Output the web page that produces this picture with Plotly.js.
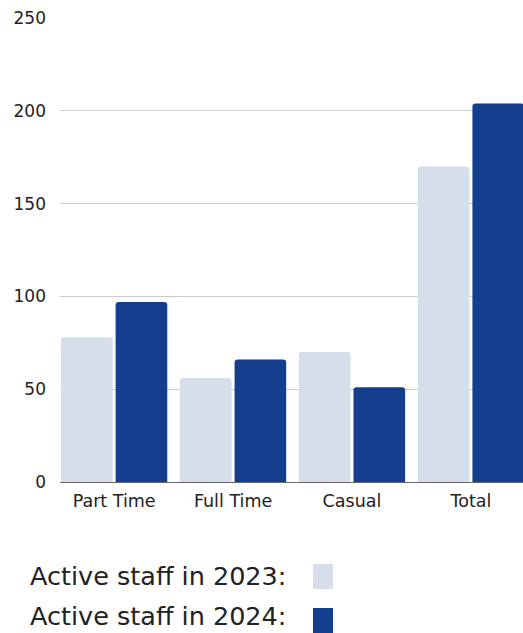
<!DOCTYPE html>
<html>
<head>
<meta charset="utf-8">
<script src="https://cdn.plot.ly/plotly-3.0.1.min.js"></script>
<style>html,body{margin:0;padding:0;background:#fff;}#chart{width:523px;height:633px;}</style>
</head>
<body>
<div id="chart"></div>
<script>
const categories = ["Part Time", "Full Time", "Casual", "Total"];
const staff2023 = [78, 56, 70, 170];
const staff2024 = [97, 66, 51, 204];
const seriesNames = ["Active staff in 2023:", "Active staff in 2024:"];
const yTicks = [0, 50, 100, 150, 200, 250];

const colors = ["#d5deea", "#133f8e"];
const W = 523, H = 633;
const M = {l: 60, r: 0, t: 18, b: 151};
const pw = W - M.l - M.r, ph = H - M.t - M.b;
const px = x => (x - M.l) / pw;
const py = y => (H - M.b - y) / ph;
const FONT = "DejaVu Sans, sans-serif";

const traces = [staff2023, staff2024].map((vals, i) => ({
  type: "bar",
  x: categories,
  y: vals,
  name: seriesNames[i],
  marker: {color: colors[i], cornerradius: 3},
  hoverinfo: "none"
}));

const annotations = [];
const shapes = [];
const textY = [576, 616];
const boxY = [577, 621];
seriesNames.forEach((name, i) => {
  annotations.push({
    xref: "paper", yref: "paper",
    x: px(28), y: py(textY[i]),
    xanchor: "left", yanchor: "middle",
    text: name, showarrow: false,
    font: {family: FONT, size: 25.5, color: "#222"}
  });
  shapes.push({
    type: "rect", xref: "paper", yref: "paper",
    x0: px(313), x1: px(333),
    y0: py(boxY[i] - 13), y1: py(boxY[i] + 12),
    fillcolor: colors[i], line: {width: 0}
  });
});

const layout = {
  width: W, height: H,
  margin: M,
  paper_bgcolor: "#fff", plot_bgcolor: "#fff",
  showlegend: false,
  barmode: "group",
  bargap: 0.081,
  bargroupgap: 0.055,
  font: {family: FONT, size: 17, color: "#222"},
  xaxis: {
    type: "category",
    range: [-0.455, 3.438],
    showgrid: false,
    showline: false,
    ticks: "",
    ticklabelstandoff: 6,
    tickfont: {family: FONT, size: 17.5, color: "#222"},
    fixedrange: true
  },
  yaxis: {
    range: [0, 250],
    tickvals: yTicks,
    ticktext: yTicks.map(String),
    showgrid: true,
    gridcolor: "#cccccc",
    gridwidth: 1,
    zeroline: true,
    zerolinecolor: "#666666",
    zerolinewidth: 1,
    showline: false,
    ticks: "",
    ticklabelstandoff: 13,
    tickfont: {family: FONT, size: 17, color: "#222"},
    fixedrange: true
  },
  annotations: annotations,
  shapes: shapes
};

Plotly.newPlot("chart", traces, layout, {displayModeBar: false, staticPlot: true});
</script>
</body>
</html>
